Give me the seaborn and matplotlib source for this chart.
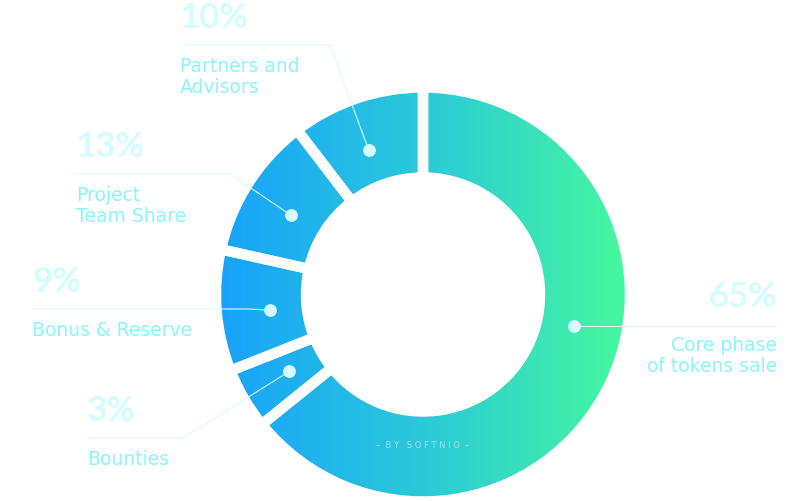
import numpy as np
import matplotlib.pyplot as plt
import seaborn as sns

# token distribution, clockwise from 12 o'clock
pct_labels = ["65%", "3%", "9%", "13%", "10%"]
# arc sizes as drawn in the picture (they differ slightly from the labels)
arc_shares = [64.2, 4.8, 9.5, 11.1, 10.4]
names = [["Core phase", "of tokens sale"], ["Bounties"], ["Bonus & Reserve"],
         ["Project", "Team Share"], ["Partners and", "Advisors"]]

sns.set_style("white")
plt.rcParams['font.family'] = ['DejaVu Sans']

W, H = 810, 501
fig = plt.figure(figsize=(8.1, 5.01), dpi=100)
ax = fig.add_axes([0, 0, 1, 1])

cx, cy = 423, H - 294.5
R, ring = 207, 90

wedges, _ = ax.pie(arc_shares, startangle=90, counterclock=False, radius=R,
                   center=(cx, cy), frame=True, normalize=True,
                   wedgeprops=dict(width=ring, linewidth=7.5,
                                   edgecolor='white', facecolor='none'))

# horizontal blue -> green gradient clipped to each wedge
cmap = sns.blend_palette(["#17a2fb", "#2bc9d9", "#46f99c"], as_cmap=True)
grad = np.linspace(0, 1, 256).reshape(1, -1)
for w in wedges:
    im = ax.imshow(grad, cmap=cmap, extent=(cx - R, cx + R, cy - R, cy + R),
                   aspect='auto', zorder=1, interpolation='bicubic')
    im.set_clip_path(w)
    w.set_zorder(2)

# label layout (image pixel coords, y downward)
dot_frac = [0.44, 0.52, 0.46, 0.46, 0.45]
dot_r = 154
line_y = [324, 438, 309, 174, 45]
far_x = [777, 87, 32, 76, 180]
elbow_x = [600, 183, 250, 230, 330]

pct_color = "#d3fcff"
name_color = "#8cf5fd"
line_color = "#d9fbff"

for i, w in enumerate(wedges):
    ang = np.deg2rad(w.theta2 - dot_frac[i] * (w.theta2 - w.theta1))
    dx, dy = cx + dot_r * np.cos(ang), cy + dot_r * np.sin(ang)
    ly = H - line_y[i]
    if i == 0:
        xs, ys = [dx, far_x[i]], [dy, dy]
    else:
        xs, ys = [dx, elbow_x[i], far_x[i]], [dy, ly, ly]
    ax.plot(xs, ys, color=line_color, lw=0.8, zorder=3, solid_capstyle='butt')
    ax.scatter([dx], [dy], s=85, color="#d6fcff", zorder=4, linewidths=0)
    ha = 'right' if i == 0 else 'left'
    ax.text(far_x[i], ly + 17, pct_labels[i], ha=ha, va='baseline',
            fontsize=25, fontweight='bold', color=pct_color, zorder=5,
            family='Lato')
    for k, line in enumerate(names[i]):
        ax.text(far_x[i], ly - 27 - 21 * k, line, ha=ha, va='baseline',
                fontsize=13.5, color=name_color, zorder=5)

ax.text(cx, H - 445, "–  B Y   S O F T N I O  –", ha='center', va='center',
        fontsize=6, color="#a3dfea", zorder=5)

ax.set_xlim(0, W)
ax.set_ylim(0, H)
ax.set_aspect('auto')
ax.axis('off')

fig.savefig("out.png", dpi=100, facecolor='white')
